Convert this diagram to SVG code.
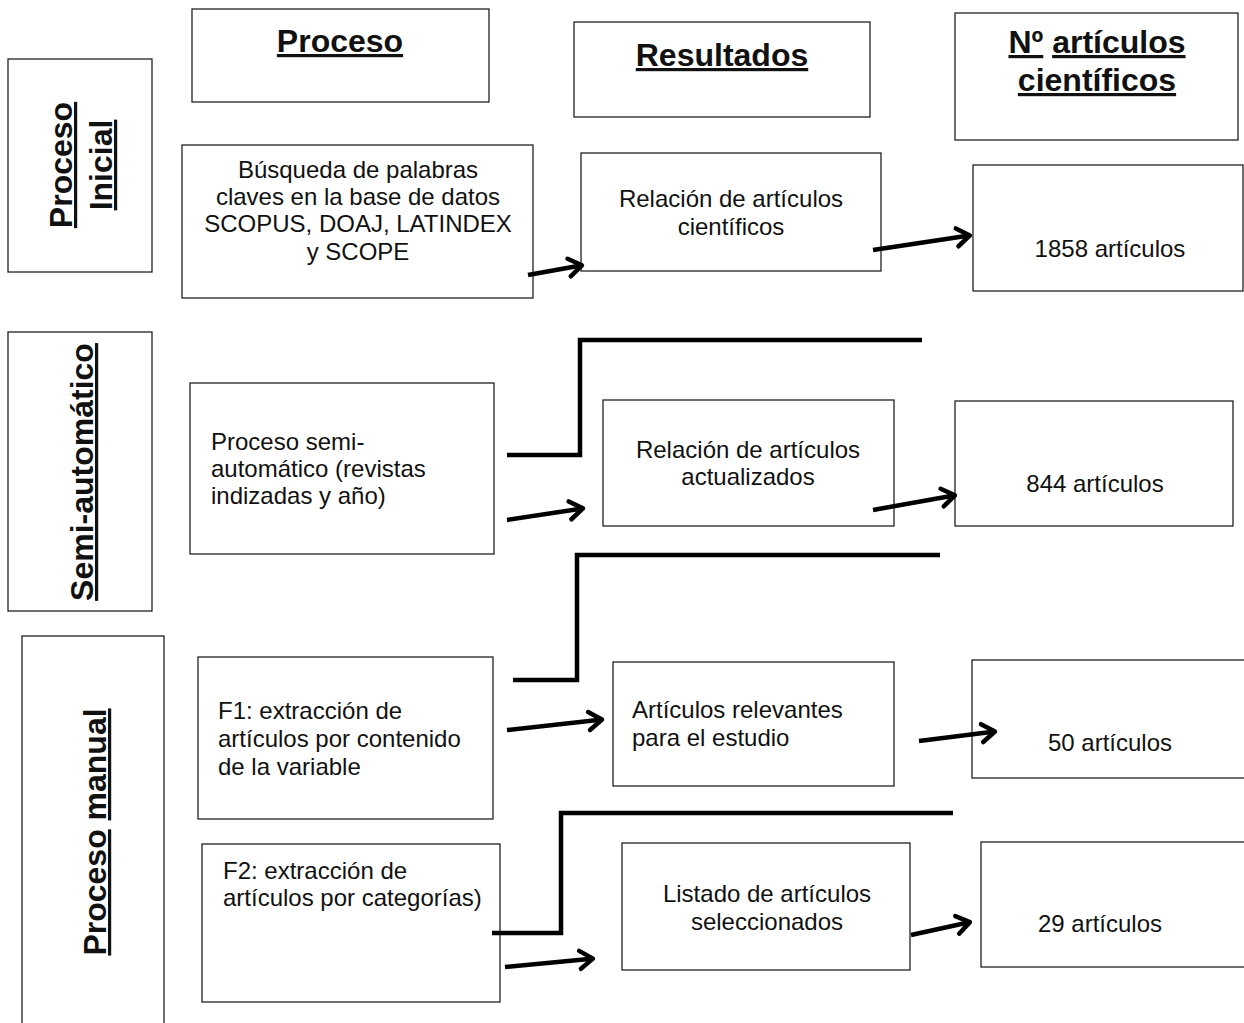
<svg xmlns="http://www.w3.org/2000/svg" width="1244" height="1023" viewBox="0 0 1244 1023">
<style>
.box{fill:#fff;stroke:#222;stroke-width:1.3}
.t{font-family:"Liberation Sans",Arial,sans-serif;font-size:24px;fill:#111}
.c{text-anchor:middle}
.h{font-family:"Liberation Sans",Arial,sans-serif;font-size:32px;font-weight:bold;fill:#111;text-anchor:middle}
.u{text-decoration:underline}
.step{fill:none;stroke:#000;stroke-width:4.5}
.arr{fill:none;stroke:#000;stroke-width:4.5;marker-end:url(#ah)}
</style>
<defs>
<marker id="ah" markerUnits="userSpaceOnUse" viewBox="0 0 24 24" markerWidth="24" markerHeight="24" refX="16" refY="12" orient="auto">
<path d="M7,3 L20,12 L7,21" fill="none" stroke="#000" stroke-width="4.5" stroke-linecap="round" stroke-linejoin="round"/>
</marker>
</defs>
<rect width="1244" height="1023" fill="#fff"/>

<g id="hdr-proceso"><rect class="box" x="192" y="9" width="297" height="93"/><text class="h" x="340" y="52"><tspan class="u">Proceso</tspan></text></g>
<g id="hdr-resultados"><rect class="box" x="574" y="22" width="296" height="95"/><text class="h" x="722" y="66"><tspan class="u">Resultados</tspan></text></g>
<g id="hdr-num"><rect class="box" x="955" y="13" width="283" height="127"/><text class="h" x="1097" y="53"><tspan class="u">Nº</tspan> <tspan class="u">artículos</tspan></text><text class="h" x="1097" y="91"><tspan class="u">científicos</tspan></text></g>

<g id="lbl-inicial"><rect class="box" x="8" y="59" width="144" height="213"/>
<text class="h" transform="translate(72,165) rotate(-90)"><tspan class="u">Proceso</tspan></text>
<text class="h" transform="translate(112,165) rotate(-90)"><tspan class="u">Inicial</tspan></text></g>
<g id="lbl-semi"><rect class="box" x="8" y="332" width="144" height="279"/>
<text class="h" transform="translate(93,472) rotate(-90)"><tspan class="u">Semi-automático</tspan></text></g>
<g id="lbl-manual"><rect class="box" x="22" y="636" width="142" height="400"/>
<text class="h" transform="translate(106,832) rotate(-90)"><tspan class="u">Proceso</tspan> <tspan class="u">manual</tspan></text></g>

<g id="n-busqueda"><rect class="box" x="182" y="145" width="351" height="153"/>
<text class="t c" x="358" y="178">Búsqueda de palabras</text>
<text class="t c" x="358" y="205">claves en la base de datos</text>
<text class="t c" x="358" y="232">SCOPUS, DOAJ, LATINDEX</text>
<text class="t c" x="358" y="260">y SCOPE</text></g>
<g id="n-rel-cient"><rect class="box" x="581" y="153" width="300" height="118"/>
<text class="t c" x="731" y="207">Relación de artículos</text>
<text class="t c" x="731" y="235">científicos</text></g>
<g id="n-1858"><rect class="box" x="973" y="165" width="270" height="126"/>
<text class="t c" x="1110" y="257">1858 artículos</text></g>

<g id="n-semi"><rect class="box" x="190" y="383" width="304" height="171"/>
<text class="t" x="211" y="450">Proceso semi-</text>
<text class="t" x="211" y="477">automático (revistas</text>
<text class="t" x="211" y="504">indizadas y año)</text></g>
<g id="n-rel-act"><rect class="box" x="603" y="400" width="291" height="126"/>
<text class="t c" x="748" y="458">Relación de artículos</text>
<text class="t c" x="748" y="485">actualizados</text></g>
<g id="n-844"><rect class="box" x="955" y="401" width="278" height="125"/>
<text class="t c" x="1095" y="492">844 artículos</text></g>

<g id="n-f1"><rect class="box" x="198" y="657" width="295" height="162"/>
<text class="t" x="218" y="719">F1: extracción de</text>
<text class="t" x="218" y="747">artículos por contenido</text>
<text class="t" x="218" y="775">de la variable</text></g>
<g id="n-relev"><rect class="box" x="613" y="662" width="281" height="124"/>
<text class="t" x="632" y="718">Artículos relevantes</text>
<text class="t" x="632" y="746">para el estudio</text></g>
<g id="n-50"><rect class="box" x="972" y="660" width="280" height="118"/>
<text class="t c" x="1110" y="751">50 artículos</text></g>

<g id="n-f2"><rect class="box" x="202" y="844" width="298" height="158"/>
<text class="t" x="223" y="879">F2: extracción de</text>
<text class="t" x="223" y="906">artículos por categorías)</text></g>
<g id="n-listado"><rect class="box" x="622" y="843" width="288" height="127"/>
<text class="t c" x="767" y="902">Listado de artículos</text>
<text class="t c" x="767" y="930">seleccionados</text></g>
<g id="n-29"><rect class="box" x="981" y="842" width="280" height="125"/>
<text class="t c" x="1100" y="932">29 artículos</text></g>

<g id="connectors">
<line class="arr" x1="528" y1="275" x2="578" y2="266"/>
<line class="arr" x1="873" y1="250" x2="966" y2="236"/>
<path class="step" d="M507,455 H580 V340 H922"/>
<line class="arr" x1="507" y1="520" x2="579" y2="509"/>
<line class="arr" x1="873" y1="510" x2="951" y2="496"/>
<path class="step" d="M513,680 H577 V555 H940"/>
<line class="arr" x1="507" y1="730" x2="598" y2="720"/>
<line class="arr" x1="919" y1="741" x2="991" y2="732"/>
<path class="step" d="M492,933 H561 V813 H953"/>
<line class="arr" x1="505" y1="967" x2="589" y2="959"/>
<line class="arr" x1="911" y1="935" x2="966" y2="923"/>
</g>
</svg>
